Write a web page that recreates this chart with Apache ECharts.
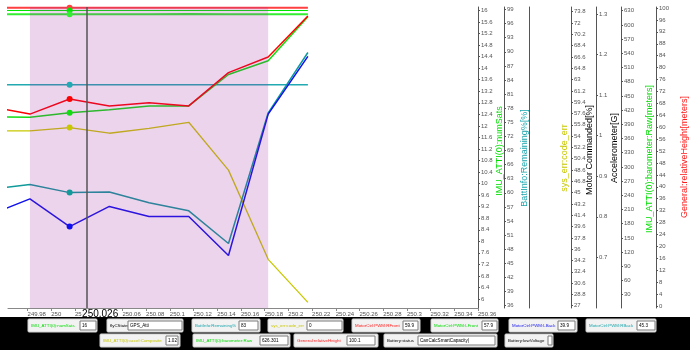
<!DOCTYPE html>
<html><head><meta charset="utf-8">
<script src="https://cdn.jsdelivr.net/npm/echarts@6/dist/echarts.min.js"></script>
<style>html,body{margin:0;padding:0;background:#fff}#c{width:690px;height:350px}</style>
</head><body><div id="c"></div>
<script>
// ---------------- data ----------------
const timeS          = [249.9485, 249.982, 250.0155, 250.049, 250.0825, 250.116, 250.1495, 250.183, 250.2165];
const pwmRFront      = [58.7, 57.5, 59.9, 58.8, 59.3, 58.8, 64.1, 66.6, 73.1];
const pwmLFront      = [57.1, 57.0, 57.7, 58.2, 58.8, 58.8, 63.8, 66.0, 73.0];
const pwmLBack       = [41.5, 44.0, 39.6, 42.8, 41.2, 41.2, 35.0, 57.5, 66.7];
const pwmRBack       = [45.5, 46.3, 45.0, 45.1, 43.4, 42.1, 36.9, 57.7, 67.3];
const accelComposite = [1.012, 1.012, 1.020, 1.006, 1.018, 1.033, 0.915, 0.695, 0.589];
const numSats        = [16, 16, 16, 16, 16, 16, 16, 16, 16];
const battRemaining  = [83, 83, 83, 83, 83, 83, 83, 83, 83];
const baroRaw        = [622.3, 622.3, 622.5, 622.3, 622.3, 623.2, 622.3, 622.3, 622.3];
const relHeight      = [100.1, 100.1, 100.1, 100.1, 100.1, 100.1, 100.1, 100.1, 100.1];
const shadedRange    = [249.982, 250.183];
const cursorTime     = 250.026;
const cursorLabel    = '250.026';
const markerIndex    = 2;

const xTickLabels     = ['249.98','250','250.02','250.04','250.06','250.08','250.1','250.12','250.14','250.16','250.18','250.2','250.22','250.24','250.26','250.28','250.3','250.32','250.34','250.36'];
const numSatsTicks    = ['16','15.6','15.2','14.8','14.4','14','13.6','13.2','12.8','12.4','12','11.6','11.2','10.8','10.4','10','9.6','9.2','8.8','8.4','8','7.6','7.2','6.8','6.4','6'];
const battTicks       = ['99','96','93','90','87','84','81','78','75','72','69','66','63','60','57','54','51','48','45','42','39','36'];
const motorTicks      = ['73.8','72','70.2','68.4','66.6','64.8','63','61.2','59.4','57.6','55.8','54','52.2','50.4','48.6','46.8','45','43.2','41.4','39.6','37.8','36','34.2','32.4','30.6','28.8','27'];
const accelTicks      = ['1.3','1.2','1.1','1','0.9','0.8','0.7'];
const baroTicks       = ['630','600','570','540','510','480','450','420','390','360','330','300','270','240','210','180','150','120','90','60','30'];
const relHeightTicks  = ['100','96','92','88','84','80','76','72','68','64','60','56','52','48','44','40','36','32','28','24','20','16','12','8','4','0'];
const axisTitles      = ['IMU_ATTI(0):numSats','BattInfo:Remaining%[%]','sys_err:code_err','Motor Commanded[%]','Accelerometer[G]','IMU_ATTI(0):barometer:Raw[meters]','General:relativeHeight[meters]'];

const panelNames  = ['IMU_ATTI(0):numSats','flyCState','BattInfo:Remaining%','sys_err:code_err','MotorCtrl:PWM:RFront','MotorCtrl:PWM:LFront','MotorCtrl:PWM:LBack','MotorCtrl:PWM:RBack','IMU_ATTI(0):accel:Composite','IMU_ATTI(0):barometer:Raw','General:relativeHeight','Battery:status','Battery:lowVoltage'];
const panelValues = ['16','GPS_Atti','83','0','59.9','57.9','39.9','45.3','1.02','626.301','100.1','CanCalcSmartCapacity|',''];

// ---------------- styling / layout ----------------
const C = {green:'#00dd00', teal:'#1aa6ad', yellow:'#c8c800', red:'#ff1a1a', blue:'#1a1aee', black:'#000000'};
const panelColors = [C.green, C.black, C.teal, C.yellow, C.red, C.green, C.blue, C.teal, C.yellow, C.green, C.red, C.black, C.black];
// [boxX, boxW, inputX, inputW, row]
const panelLayout = [[28,69,80,16,0],[107,76,128,54,0],[192,68,239,19,0],[268,75,307,35,0],[352,68,403,15,0],[431,67,482,15,0],[509,68,558,17,0],[586,70,637,18,0],
                     [100,80,166,12,1],[193,97,260,28,1],[294,84,347,28,1],[384,113,418,77,1],[505,48,548,4,1]];
const rowY = [319, 334];
// axis title placement: [centerX, centerY], colours
const titlePos = [[500,151],[525,158],[565,158],[590,150],[615,148],[650,159],[685,157]];
const titleColors = [C.green, C.teal, C.yellow, C.black, C.black, C.green, C.red];
const FONT = 'Liberation Sans, Arial, sans-serif';

const num = a => a.map(Number);
const fmt = v => String(+(+v).toFixed(4));
const pairs = arr => timeS.map((t, i) => [t, arr[i]]);

function yAx(o) {
  const base = {
    type: 'value', position: 'right', scale: true,
    splitLine: {show: false},
    axisLine: {show: true, onZero: false, lineStyle: {color: '#555', width: 1}},
    axisTick: {show: true, length: 2, lineStyle: {color: '#555'}},
    axisLabel: {fontSize: 6, color: '#555', margin: 3, fontFamily: FONT, formatter: fmt}
  };
  const r = Object.assign({}, base, o);
  if (o.ticks) {
    r.axisTick = Object.assign({}, base.axisTick, {customValues: num(o.ticks)});
    r.axisLabel = Object.assign({}, base.axisLabel, {customValues: num(o.ticks)});
    delete r.ticks;
  }
  return r;
}

const yAxes = [
  yAx({offset: 0,   min: 5.688,  max: 16.121,  ticks: numSatsTicks}),
  yAx({offset: 26,  min: 35.49,  max: 99.53,   ticks: battTicks}),
  yAx({offset: 51,  min: 0, max: 1, axisTick: {show: false}, axisLabel: {show: false}}),
  yAx({offset: 93,  min: 26.634, max: 74.548,  ticks: motorTicks}),
  yAx({offset: 118, min: 0.575,  max: 1.3173,  ticks: accelTicks}),
  yAx({offset: 143, min: 1.9,    max: 637.8,   ticks: baroTicks}),
  yAx({offset: 178, min: -0.671, max: 100.336, ticks: relHeightTicks})
];

function lineSeries(name, data, axis, color, width) {
  return {
    name, type: 'line', yAxisIndex: axis, data: pairs(data), showSymbol: false, clip: true,
    lineStyle: {color, width: width || 1.5}, itemStyle: {color}, z: 2, silent: true,
    markPoint: {symbol: 'circle', symbolSize: 6, silent: true, label: {show: false}, itemStyle: {color},
      data: [{coord: [timeS[markerIndex], data[markerIndex]]}]}
  };
}

const series = [
  lineSeries('General:relativeHeight', relHeight, 6, '#ff4040', 2),
  lineSeries('IMU_ATTI(0):numSats', numSats, 0, '#00e600', 1.2),
  lineSeries('IMU_ATTI(0):barometer:Raw', baroRaw, 5, '#33ee33', 2),
  lineSeries('BattInfo:Remaining%', battRemaining, 1, '#22aab2', 1.5),
  lineSeries('IMU_ATTI(0):accel:Composite', accelComposite, 4, C.yellow, 1.3),
  lineSeries('MotorCtrl:PWM:RBack', pwmRBack, 3, '#109a9a', 1.5),
  lineSeries('MotorCtrl:PWM:LBack', pwmLBack, 3, '#1010ee', 1.5),
  lineSeries('MotorCtrl:PWM:LFront', pwmLFront, 3, '#11dd11', 1.5),
  lineSeries('MotorCtrl:PWM:RFront', pwmRFront, 3, '#ff0000', 1.5),
  {
    type: 'line', yAxisIndex: 0, data: [], silent: true,
    markArea: {silent: true, z: 3, itemStyle: {color: 'rgba(160,40,160,0.2)'},
      data: [[{xAxis: shadedRange[0]}, {xAxis: shadedRange[1]}]]},
    markLine: {silent: true, z: 6, symbol: ['none', 'none'], label: {show: false},
      lineStyle: {color: '#555', width: 1.5, type: 'solid'}, data: [{xAxis: cursorTime}]}
  }
];

const chart = echarts.init(document.getElementById('c'), null, {renderer: 'canvas'});
chart.setOption({
  animation: false,
  backgroundColor: '#ffffff',
  grid: {left: 8, right: 212, top: 7, bottom: 42, containLabel: false, outerBoundsMode: 'none'},
  xAxis: {
    type: 'value', min: 249.9635, max: 250.36,
    splitLine: {show: false},
    axisLine: {show: true, onZero: false, lineStyle: {color: '#888'}},
    axisTick: {show: true, length: 3, customValues: num(xTickLabels), lineStyle: {color: '#888'}},
    axisLabel: {customValues: num(xTickLabels), fontSize: 6, color: '#555', align: 'left', margin: 3,
      fontFamily: FONT, formatter: fmt}
  },
  yAxis: yAxes,
  series
});

// ---------------- graphics: axis titles, cursor label, bottom panel ----------------
const g = [];
axisTitles.forEach((t, i) => {
  g.push({type: 'text', x: titlePos[i][0], y: titlePos[i][1], rotation: Math.PI / 2,
    style: {text: t, fill: titleColors[i], fontSize: 9, fontFamily: FONT, align: 'center', verticalAlign: 'middle'}, z: 8});
});
g.push({type: 'rect', shape: {x: 0, y: 317, width: 690, height: 33}, style: {fill: '#000'}, z: 10});
panelNames.forEach((nm, i) => {
  const [bx, bw, ix, iw, row] = panelLayout[i];
  const y = rowY[row];
  g.push({type: 'rect', shape: {x: bx, y: y, width: bw, height: 13, r: 1}, style: {fill: '#f2f2f2', stroke: '#d0d0d0', lineWidth: 1}, z: 11});
  g.push({type: 'rect', shape: {x: ix, y: y + 2, width: iw, height: 9}, style: {fill: '#ffffff', stroke: '#7a7a7a', lineWidth: 1}, z: 12});
  g.push({type: 'text', x: bx + 3, y: y + 6.5, style: {text: nm, fill: panelColors[i], fontSize: 4.4, fontFamily: FONT, verticalAlign: 'middle', align: 'left'}, z: 13});
  g.push({type: 'text', x: ix + 2, y: y + 6.5, style: {text: panelValues[i], fill: '#000', fontSize: 4.6, fontFamily: FONT, verticalAlign: 'middle', align: 'left'}, z: 13});
});
const cx = chart.convertToPixel({xAxisIndex: 0}, cursorTime);
const by = chart.convertToPixel({yAxisIndex: 0}, 5.688);
g.push({type: 'text', x: cx, y: by + 1, style: {text: cursorLabel, fill: '#000', fontSize: 10, fontFamily: FONT,
  backgroundColor: '#fff', padding: [0, 1, 0, 0], verticalAlign: 'top', align: 'left'}, z: 9});
chart.setOption({graphic: {elements: g}});
</script>
</body></html>
